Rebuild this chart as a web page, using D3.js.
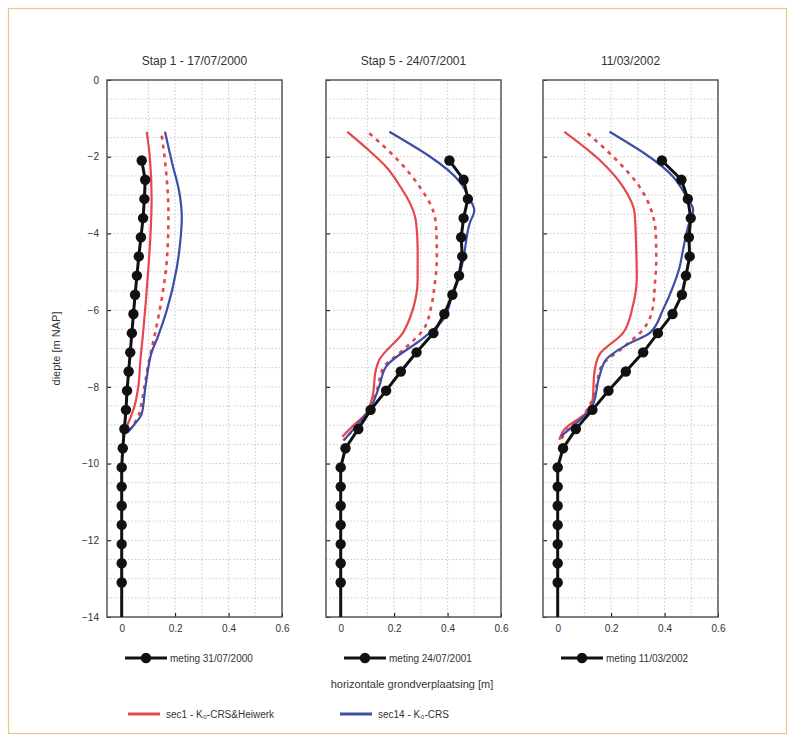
<!DOCTYPE html>
<html>
<head>
<meta charset="utf-8">
<script src="https://cdn.jsdelivr.net/npm/d3@7"></script>
<style>
  body { margin: 0; background: #fff; }
  text { font-family: "Liberation Sans", Arial, sans-serif; fill: #333; }
</style>
</head>
<body>
<svg id="chart" width="795" height="742"></svg>
<script>
/////////////////////////////////////////////////
/* DATA */
/////////////////////////////////////////////////
const titles = ["Stap 1 - 17/07/2000", "Stap 5 - 24/07/2001", "11/03/2002"];
const metingLabels = ["meting 31/07/2000", "meting 24/07/2001", "meting 11/03/2002"];
const xTicks = [0, 0.2, 0.4, 0.6];
const yTicks = [0, -2, -4, -6, -8, -10, -12, -14];

// depths of the measured points (m NAP)
const metingDepth = [-2.1, -2.6, -3.1, -3.6, -4.1, -4.6, -5.1, -5.6, -6.1, -6.6, -7.1, -7.6,
                     -8.1, -8.6, -9.1, -9.6, -10.1, -10.6, -11.1, -11.6, -12.1, -12.6, -13.1];
const meting1 = [0.075, 0.088, 0.085, 0.08, 0.072, 0.064, 0.057, 0.05, 0.044, 0.038, 0.032, 0.026,
                 0.02, 0.016, 0.01, 0.004, 0, 0, 0, 0, 0, 0, 0];
const meting2 = [0.407, 0.46, 0.476, 0.46, 0.451, 0.455, 0.443, 0.418, 0.388, 0.347, 0.284, 0.225,
                 0.17, 0.112, 0.066, 0.018, 0, 0, 0, 0, 0, 0, 0];
const meting3 = [0.39, 0.463, 0.487, 0.498, 0.491, 0.494, 0.48, 0.465, 0.43, 0.375, 0.32, 0.255,
                 0.19, 0.13, 0.068, 0.02, 0, 0, 0, 0, 0, 0, 0];

// calculated curves: [displacement, depth]
const red1 = [[0.094,-1.35],[0.105,-2],[0.112,-3.1],[0.108,-4],[0.1,-4.9],[0.09,-5.8],[0.08,-6.6],
              [0.07,-7.3],[0.062,-8.0],[0.048,-8.5],[0.03,-8.85],[0.015,-9.1],[0.003,-9.3]];
const dash1 = [[0.15,-1.45],[0.165,-2.3],[0.175,-3.5],[0.17,-4.6],[0.15,-5.7],[0.125,-6.6],
               [0.1,-7.4],[0.08,-8.2],[0.06,-8.8],[0.02,-9.2]];
const blue1 = [[0.162,-1.35],[0.19,-2.2],[0.215,-2.9],[0.225,-3.6],[0.218,-4.3],[0.206,-4.9],
               [0.169,-6.0],[0.135,-6.7],[0.112,-7.1],[0.095,-7.7],[0.087,-8.1],[0.075,-8.7],
               [0.045,-9.0],[0.02,-9.2]];

const red2 = [[0.025,-1.35],[0.1,-1.8],[0.17,-2.26],[0.225,-2.8],[0.262,-3.25],[0.282,-3.7],
              [0.288,-4.4],[0.288,-5.2],[0.27,-5.98],[0.232,-6.6],[0.144,-7.3],[0.132,-7.55],
              [0.119,-8.25],[0.094,-8.7],[0.044,-9.03],[0.006,-9.3]];
const dash2 = [[0.107,-1.39],[0.213,-2.08],[0.295,-2.78],[0.345,-3.39],[0.357,-3.82],[0.36,-4.6],
               [0.351,-5.38],[0.339,-5.9],[0.31,-6.5],[0.24,-7.0],[0.16,-7.5],[0.135,-8.1],
               [0.1,-8.7],[0.05,-9.1],[0.01,-9.4]];
const blue2 = [[0.182,-1.35],[0.445,-2.65],[0.483,-3.1],[0.5,-3.4],[0.483,-3.73],[0.458,-4.7],
               [0.44,-5.2],[0.414,-5.7],[0.383,-6.25],[0.332,-6.6],[0.295,-6.8],[0.17,-7.47],
               [0.144,-7.99],[0.107,-8.6],[0.057,-9.03],[0.013,-9.38]];

const red3 = [[0.025,-1.35],[0.156,-2.08],[0.244,-2.78],[0.288,-3.47],[0.294,-4.43],[0.296,-5.12],
              [0.281,-5.9],[0.244,-6.6],[0.156,-7.16],[0.137,-7.64],[0.131,-8.33],[0.106,-8.68],
              [0.025,-9.11],[0.006,-9.38]];
const dash3 = [[0.112,-1.39],[0.219,-2.08],[0.306,-2.78],[0.35,-3.39],[0.367,-4.0],[0.369,-4.69],
               [0.363,-5.38],[0.357,-5.9],[0.32,-6.5],[0.24,-7.0],[0.165,-7.45],[0.14,-8.1],
               [0.1,-8.7],[0.04,-9.1],[0.01,-9.4]];
const blue3 = [[0.194,-1.35],[0.432,-2.52],[0.482,-3.04],[0.507,-3.39],[0.488,-3.82],[0.469,-4.43],
               [0.457,-4.86],[0.432,-5.38],[0.394,-5.99],[0.344,-6.6],[0.27,-6.86],[0.181,-7.29],
               [0.156,-7.73],[0.13,-8.5],[0.056,-9.03],[0.012,-9.29]];

const metingSeries = [meting1, meting2, meting3];
const redSeries = [red1, red2, red3];
const dashSeries = [dash1, dash2, dash3];
const blueSeries = [blue1, blue2, blue3];

const legendLabels = ["sec1 - K\u2080-CRS&Heiwerk", "sec14 - K\u2080-CRS"];

/////////////////////////////////////////////////
/* LAYOUT */
/////////////////////////////////////////////////
const RED = "#e5474b", BLUE = "#3c4ea6", BLACK = "#111";
const panelLeft = [107, 326, 543];
const panelW = 175, plotTop = 80, panelH = 537;

const svg = d3.select("#chart");

// light frame round the whole figure
svg.append("rect")
  .attr("x", 8.5).attr("y", 8.5).attr("width", 778).attr("height", 725)
  .attr("fill", "none").attr("stroke", "#e6c98c").attr("stroke-width", 1.2);

const y = d3.scaleLinear().domain([-14, 0]).range([plotTop + panelH, plotTop]);

const line = (xs) => d3.line()
  .x(d => xs(d[0]))
  .y(d => y(d[1]))
  .curve(d3.curveMonotoneY);

panelLeft.forEach((left, i) => {
  const x = d3.scaleLinear().domain([-0.055, 0.6]).range([left, left + panelW]);
  const g = svg.append("g");

  // grid
  const grid = g.append("g").attr("stroke", "#aaa").attr("stroke-width", 0.6)
    .attr("stroke-dasharray", "1.5,2");
  grid.selectAll(".vg").data(d3.range(0.1, 0.6, 0.1)).enter().append("line")
    .attr("x1", d => x(d)).attr("x2", d => x(d))
    .attr("y1", plotTop).attr("y2", plotTop + panelH);
  grid.selectAll(".hg").data(d3.range(-13.5, 0, 0.5)).enter().append("line")
    .attr("x1", left).attr("x2", left + panelW)
    .attr("y1", d => y(d)).attr("y2", d => y(d));

  // axes (ticks pointing inward)
  g.append("g").attr("transform", `translate(0,${plotTop + panelH})`)
    .call(d3.axisBottom(x).tickValues(xTicks).tickSize(-4).tickPadding(8)
      .tickFormat(d => d === 0 ? "0" : d3.format(".1f")(d)))
    .call(a => a.select(".domain").remove())
    .call(a => a.selectAll("text").attr("font-size", 10));
  g.append("g").attr("transform", `translate(${left},0)`)
    .call(d3.axisLeft(y).tickValues(yTicks).tickSize(-4).tickPadding(8)
      .tickFormat(i === 0 ? d => d3.format("d")(d).replace("-", "\u2212") : ""))
    .call(a => a.select(".domain").remove())
    .call(a => a.selectAll("text").attr("font-size", 10));

  // box
  g.append("rect").attr("x", left).attr("y", plotTop).attr("width", panelW).attr("height", panelH)
    .attr("fill", "none").attr("stroke", "#555").attr("stroke-width", 1.5);

  // title
  g.append("text").attr("x", left + panelW / 2).attr("y", plotTop - 15)
    .attr("text-anchor", "middle").attr("font-size", 12).text(titles[i]);

  // calculated curves
  g.append("path").datum(redSeries[i]).attr("d", line(x))
    .attr("fill", "none").attr("stroke", RED).attr("stroke-width", 2.2);
  g.append("path").datum(dashSeries[i]).attr("d", line(x))
    .attr("fill", "none").attr("stroke", RED).attr("stroke-width", 2.6)
    .attr("stroke-dasharray", "4,5");
  g.append("path").datum(blueSeries[i]).attr("d", line(x))
    .attr("fill", "none").attr("stroke", BLUE).attr("stroke-width", 2.2);

  // measured curve with markers, line carried on to the bottom of the box
  const pts = metingDepth.map((dp, k) => [metingSeries[i][k], dp]);
  const ext = pts.concat([[0, -14]]);
  g.append("path").datum(ext)
    .attr("d", d3.line().x(d => x(d[0])).y(d => y(d[1])))
    .attr("fill", "none").attr("stroke", BLACK).attr("stroke-width", 3);
  g.selectAll(".pt").data(pts).enter().append("circle")
    .attr("cx", d => x(d[0])).attr("cy", d => y(d[1])).attr("r", 5.2)
    .attr("fill", BLACK);

  // panel legend
  const lx = left + 18, ly = 658;
  g.append("line").attr("x1", lx).attr("x2", lx + 42).attr("y1", ly).attr("y2", ly)
    .attr("stroke", BLACK).attr("stroke-width", 3);
  g.append("circle").attr("cx", lx + 21).attr("cy", ly).attr("r", 5.2).attr("fill", BLACK);
  g.append("text").attr("x", lx + 45).attr("y", ly + 3.5).attr("font-size", 10)
    .text(metingLabels[i]);
});

// common axis labels
svg.append("text").attr("x", 412).attr("y", 688).attr("text-anchor", "middle")
  .attr("font-size", 11).text("horizontale grondverplaatsing [m]");
svg.append("text").attr("transform", `translate(60,${plotTop + panelH / 2}) rotate(-90)`)
  .attr("text-anchor", "middle").attr("font-size", 11).text("diepte [m NAP]");

// bottom legend
const legendItems = [{ x: 128, c: RED }, { x: 340, c: BLUE }];
legendItems.forEach((it, k) => {
  svg.append("line").attr("x1", it.x).attr("x2", it.x + 32).attr("y1", 714).attr("y2", 714)
    .attr("stroke", it.c).attr("stroke-width", 3);
  svg.append("text").attr("x", it.x + 38).attr("y", 717.5).attr("font-size", 10)
    .text(legendLabels[k]);
});
</script>
</body>
</html>
